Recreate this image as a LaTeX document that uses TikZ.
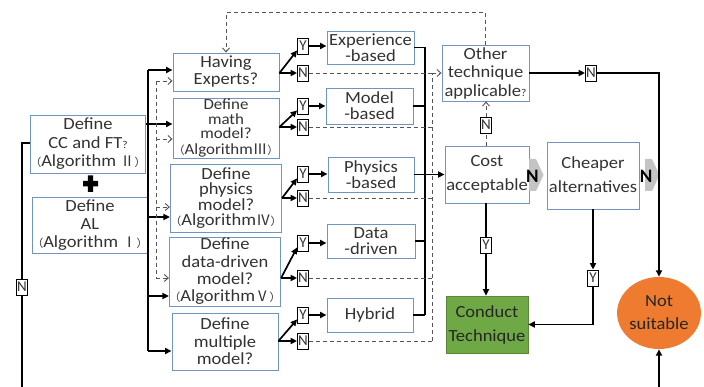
\documentclass[tikz,border=0pt]{standalone}
\usepackage{fontspec}
\setmainfont{Carlito}[FakeStretch=1.09]
\newfontfamily\cjk{Noto Sans CJK SC}
\newfontfamily\ynfont{Carlito}
\usetikzlibrary{arrows.meta,shapes.geometric}
\definecolor{boxline}{HTML}{7096C0}
\definecolor{txt}{HTML}{333333}
\definecolor{dashc}{HTML}{555555}
\definecolor{okgreen}{HTML}{6FA945}
\definecolor{stoporange}{HTML}{EE7B30}
\definecolor{chev}{HTML}{C4C4C4}
\newcommand\fs[2]{\fontsize{#1}{#2}\selectfont}
\newcommand\fwl{{\cjk\fontsize{11}{11}\selectfont （}}
\newcommand\fwr{{\cjk\fontsize{11}{11}\selectfont ）}}
\newcommand\rn[1]{{\cjk\fontsize{14.5}{14.5}\selectfont #1}}
\newcommand\sq{{\fontsize{10.5}{10.5}\selectfont ?}}
\tikzset{
  box/.style={draw=boxline, line width=0.9pt, fill=white, text=txt,
    align=center, inner sep=0pt},
  yn/.style={draw=black, line width=0.8pt, fill=white, inner sep=0pt,
    minimum width=11pt, minimum height=16pt, text=txt,
    font=\ynfont\fs{15}{15}},
  bigN/.style={inner sep=0pt, font=\ynfont\bfseries\fs{19}{19}, text=black},
  line/.style={line width=1.7pt, black},
  arr/.style={line, -{Triangle[length=6.5pt,width=6pt]}},
  dsh/.style={line width=0.9pt, dashc, dash pattern=on 4pt off 3pt},
  dsharr/.style={dsh, -{Straight Barb[length=4pt,width=7pt]}},
}
\begin{document}
\begin{tikzpicture}[x=1pt,y=-1pt]
\useasboundingbox (0,0) rectangle (704,387);

% left inputs
\node[box, minimum width=102pt, minimum height=58pt, font=\fs{17}{18.5}] (cc) at (88,144)
  {Define\\CC and FT\sq\\\fwl Algorithm\ \rn{Ⅱ}\fwr};
\node[box, minimum width=104pt, minimum height=56pt, font=\fs{17}{18}] (al) at (90,225)
  {Define\\AL\\\fwl Algorithm\ \rn{Ⅰ}\fwr};
\fill[black] (83,181) rectangle (98,186.5) (87.8,175.5) rectangle (93.2,192);

% question boxes
\node[box, minimum width=106pt, minimum height=38pt, font=\fs{17}{17}] (q1) at (226,72)
  {Having\\Experts?};
\node[box, minimum width=106pt, minimum height=60pt, font=\fs{15.5}{14.6}] (q2) at (226,128)
  {Define\\math\\model?\\[1pt]\fwl Algorithm\rn{Ⅲ}\fwr};
\node[box, minimum width=106pt, minimum height=68pt, font=\fs{17}{15.5}] (q3) at (226,198)
  {Define\\physics\\model?\\\fwl Algorithm\rn{Ⅳ}\fwr};
\node[box, minimum width=106pt, minimum height=69pt, font=\fs{17}{17.3}] (q4) at (225,271.5)
  {Define\\data-driven\\model?\\\fwl Algorithm\rn{Ⅴ}\fwr};
\node[box, minimum width=106pt, minimum height=57pt, font=\fs{17}{17.5}] (q5) at (225,341.5)
  {Define\\multiple\\model?};

% result boxes
\node[box, minimum width=87pt, minimum height=33pt, font=\fs{17}{16}] (r1) at (370.5,47.5) {Experience\\-based};
\node[box, minimum width=87pt, minimum height=36pt, font=\fs{17}{16}] (r2) at (369.5,106) {Model\\-based};
\node[box, minimum width=86pt, minimum height=35pt, font=\fs{17}{16}] (r3) at (371,174.5) {Physics\\-based};
\node[box, minimum width=88pt, minimum height=34pt, font=\fs{17}{16}] (r4) at (371,241) {Data\\-driven};
\node[box, minimum width=86pt, minimum height=34pt, font=\fs{17}{16}] (r5) at (370,315) {Hybrid};

% Y / N tags
\node[yn] (y1) at (303,46) {Y};   \node[yn] (n1) at (303,73) {N};
\node[yn] (y2) at (303,106) {Y};  \node[yn] (n2) at (303,127) {N};
\node[yn] (y3) at (303,174) {Y};  \node[yn] (n3) at (303,198) {N};
\node[yn] (y4) at (303,243) {Y};  \node[yn] (n4) at (303,278) {N};
\node[yn] (y5) at (303,315) {Y};  \node[yn] (n5) at (303,341) {N};

% right side
\node[box, minimum width=87pt, minimum height=56pt, font=\fs{17}{18.5}] (oth) at (485.5,73)
  {Other\\technique\\applicable\sq};
\node[box, minimum width=84pt, minimum height=57pt, font=\fs{17}{24}] (cost) at (487,174.5)
  {Cost\\acceptable};
\node[box, minimum width=92pt, minimum height=67pt, font=\fs{17}{24}] (chp) at (593,175.5)
  {\raisebox{5pt}{\begin{tabular}{@{}c@{}}Cheaper\\alternatives\end{tabular}}};
\node[draw=okgreen!80!black, line width=0.6pt, fill=okgreen, text=black!85, align=center,
  inner sep=0pt, minimum width=82pt, minimum height=57pt, font=\fs{17}{24}] (cond) at (487,324.5)
  {Conduct\\Technique};
\node[ellipse, fill=stoporange, text=black!85, align=center, inner sep=0pt,
  minimum width=80pt, minimum height=72pt, font=\fs{17}{23}] (ns) at (659,313)
  {Not\\suitable};
\node[yn] (nr) at (591,73) {N};
\node[yn] (nc) at (486,125) {N};
\node[yn] (yc) at (486,245) {Y};
\node[yn] (yd) at (593,278) {Y};
\node[yn] (nl) at (22,287) {N};

% grey chevrons with N
\fill[chev] (529,159) -- (536,159) -- (543.5,175) -- (536,191) -- (529,191) -- cycle;
\node[bigN] (nb1) at (532.5,176) {N};
\fill[chev] (645,159) -- (652,159) -- (659.5,175) -- (652,191) -- (645,191) -- cycle;
\node[bigN] (nb2) at (646,176) {N};

% trunk feeding the question boxes
\coordinate (tk1) at (148,70);
\coordinate (tk2) at (148,124);
\coordinate (tk3) at (148,217);
\coordinate (tk4) at (148,296);
\coordinate (tk5) at (148,351);
\draw[line] (tk1) -- (tk5);
\draw[line] (cc.east |- tk2) -- (tk2);
\draw[line] (al.east |- tk3) -- (tk3);
\foreach \i in {1,...,5} \draw[arr] (tk\i) -- (q\i.west |- tk\i);

% dashed trunk
\coordinate (dk1) at (156,81);
\coordinate (dk2) at (156,139);
\coordinate (dk3) at (156,207);
\coordinate (dk4) at (156,278);
\draw[dsh] (dk1) -- (dk4);
\foreach \i in {1,...,4} \draw[dsharr] (dk\i) -- (q\i.west |- dk\i);

% Y/N forks
\foreach \i in {1,...,5} {
  \coordinate (o\i) at (q\i.east |- n\i);
  \draw[arr] (o\i) -- ([yshift=4pt]y\i.south west);
  \draw[arr] (o\i) -- (n\i.west);
  \draw[arr] (y\i.east) -- (r\i.west |- y\i.east);
}

% solid collector
\coordinate (col) at (425,0);
\foreach \i in {1,...,5} \draw[line] (r\i.east) -- (r\i.east -| col);
\draw[line] (r1.east -| col) -- (r5.east -| col);
\draw[arr] (col |- cost.west) -- (cost.west);

% dashed collector
\coordinate (dc) at (432,0);
\foreach \i in {1,...,5} \draw[dsh] (n\i.east) -- (n\i.east -| dc);
\draw[dsh] (n5.east -| dc) -- (dc |- oth.west);
\draw[dsharr] (dc |- oth.west) -- (oth.west);

% loop back to experts
\draw[dsharr] (oth.north) -- ++(0,-32) -| (q1.north);

% decisions on the right
\draw[arr] (oth.east) -- (nr.west);
\draw[arr] (nr.east) -| (ns.north);
\draw[dsh] (cost.north -| nc) -- (nc.south);
\draw[dsharr] (nc.north) -- (oth.south -| nc);
\draw[line] (cost.south -| yc) -- (yc.north);
\draw[arr] (yc.south) -- (cond.north -| yc);
\draw[arr] (chp.south -| yd) -- (yd.north);
\draw[arr] (yd.south) |- (cond.east);
\coordinate (bot) at (659,387);
\draw[arr] (bot) -- (ns.south);

% feedback on the left
\coordinate (lb) at (22,387);
\coordinate (lt) at (22,143);
\draw[line] (lb) -- (nl.south);
\draw[line] (nl.north) -- (lt) -- (cc.west |- lt);
\end{tikzpicture}
\end{document}
